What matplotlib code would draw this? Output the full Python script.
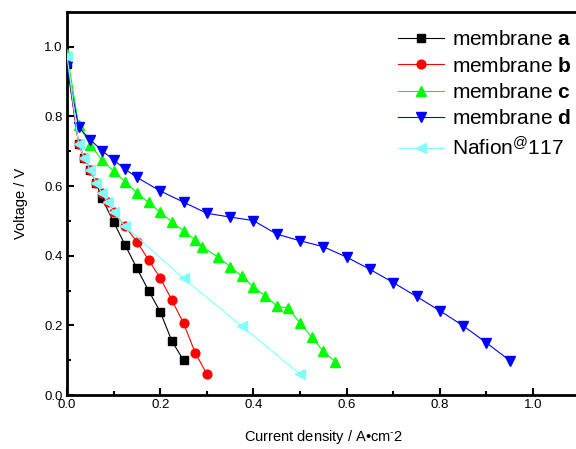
import matplotlib
matplotlib.use("Agg")
import matplotlib.pyplot as plt
from matplotlib.ticker import MultipleLocator

plt.rcParams['font.family'] = ['Liberation Sans', 'DejaVu Sans']
plt.rcParams['mathtext.fontset'] = 'custom'
plt.rcParams['mathtext.rm'] = 'Liberation Sans'
plt.rcParams['mathtext.bf'] = 'Liberation Sans:bold'
plt.rcParams['mathtext.it'] = 'Liberation Sans:italic'

# Data
a_x = [0, 0.025, 0.0375, 0.05, 0.0625, 0.075, 0.1, 0.125, 0.15, 0.175, 0.2, 0.225, 0.25]
a_y = [0.95, 0.72, 0.68, 0.645, 0.61, 0.565, 0.497, 0.43, 0.364, 0.30, 0.239, 0.155, 0.10]

b_x = [0, 0.025, 0.0375, 0.05, 0.0625, 0.075, 0.0875, 0.1, 0.125, 0.15, 0.175, 0.2, 0.225, 0.25, 0.275, 0.3]
b_y = [0.96, 0.72, 0.68, 0.645, 0.61, 0.58, 0.553, 0.526, 0.484, 0.44, 0.388, 0.336, 0.273, 0.206, 0.122, 0.06]

c_x = [0, 0.025, 0.05, 0.075, 0.1, 0.125, 0.15, 0.175, 0.2, 0.225, 0.25, 0.275, 0.29,
       0.325, 0.35, 0.375, 0.4, 0.425, 0.45, 0.475, 0.5, 0.525, 0.55, 0.575]
c_y = [0.98, 0.775, 0.718, 0.675, 0.643, 0.612, 0.581, 0.553, 0.525, 0.497, 0.471, 0.445, 0.426,
       0.395, 0.369, 0.341, 0.311, 0.285, 0.256, 0.249, 0.207, 0.166, 0.126, 0.096]

d_x = [0, 0.025, 0.05, 0.075, 0.1, 0.125, 0.15, 0.2, 0.25, 0.3, 0.35, 0.4, 0.45, 0.5,
       0.55, 0.6, 0.65, 0.7, 0.75, 0.8, 0.85, 0.9, 0.95]
d_y = [0.945, 0.769, 0.733, 0.702, 0.675, 0.648, 0.625, 0.586, 0.554, 0.522, 0.511, 0.501, 0.462, 0.443,
       0.426, 0.396, 0.361, 0.323, 0.283, 0.242, 0.199, 0.150, 0.099]

n_x = [0, 0.025, 0.0375, 0.05, 0.0625, 0.075, 0.0875, 0.1, 0.125, 0.25, 0.375, 0.5]
n_y = [0.975, 0.72, 0.68, 0.645, 0.61, 0.58, 0.553, 0.526, 0.484, 0.335, 0.198, 0.06]

x_ticks = [0.0, 0.2, 0.4, 0.6, 0.8, 1.0]
y_ticks = [0.0, 0.2, 0.4, 0.6, 0.8, 1.0]

fig = plt.figure(figsize=(5.76, 4.49), dpi=100)
ax = fig.add_axes([67/576, 54/449, 1.1*466/576, 383/449])

ms = 5.5
lw = 0.8
ax.plot(a_x, a_y, '-s', color='black', lw=lw, ms=ms, label=r'membrane $\mathbf{a}$', zorder=3)
ax.plot(b_x, b_y, '-o', color='red', lw=lw, ms=ms + 0.8, label=r'membrane $\mathbf{b}$', zorder=3)
ax.plot(c_x, c_y, '-^', color='#00ff00', lw=lw, ms=ms + 1.5, label=r'membrane $\mathbf{c}$', zorder=3)
ax.plot(d_x, d_y, '-v', color='blue', lw=lw, ms=ms + 1.5, label=r'membrane $\mathbf{d}$', zorder=3)
ax.plot(n_x, n_y, '-<', color='#80ffff', lw=lw, ms=ms + 1.5, label=r'Nafion$^{\mathregular{@}}$117', zorder=4)

ax.set_xlim(0, 1.1)
ax.set_ylim(0, 1.1)
ax.set_xticks(x_ticks)
ax.set_yticks(y_ticks)
ax.set_xticklabels([f'{t:.1f}' for t in x_ticks])
ax.set_yticklabels([f'{t:.1f}' for t in y_ticks])
ax.xaxis.set_minor_locator(MultipleLocator(0.1))
ax.yaxis.set_minor_locator(MultipleLocator(0.1))
ax.tick_params(which='major', direction='in', length=5, width=1.5, labelsize=9.5, pad=3)
ax.tick_params(which='minor', direction='in', length=3, width=1.5)
ax.tick_params(top=False, right=False)
for s in ax.spines.values():
    s.set_linewidth(2)

ax.set_xlabel(r'Current density / A•cm$^{\text{-}}$2', fontsize=10.5, labelpad=12)
ax.set_ylabel('Voltage / V', fontsize=10.5, labelpad=12)

leg = fig.legend(loc='upper left', bbox_to_anchor=(398/576, 1 - 30/449), frameon=False, fontsize=15,
                 handlelength=2.2, handletextpad=0.4, labelspacing=0.36, borderpad=0, borderaxespad=0)

fig.savefig('out.png', dpi=100)
